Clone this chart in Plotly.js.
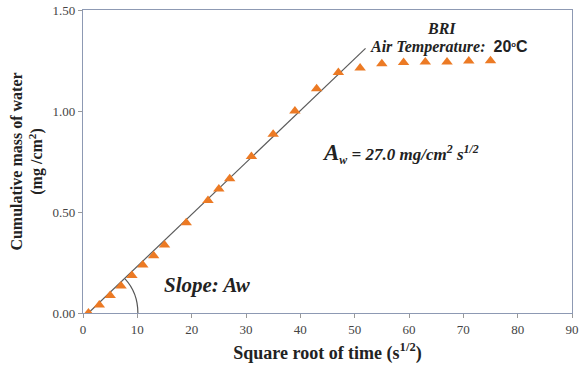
<!DOCTYPE html>
<html><head><meta charset="utf-8">
<script src="https://cdn.plot.ly/plotly-3.0.1.min.js"></script>
<style>html,body{margin:0;padding:0;background:#fff}#chart{width:585px;height:368px}</style>
</head><body><div id="chart"></div>
<script>
const timeSqrt = [1,3,5,7,9,11,13,15,19,23,25,27,31,35,39,43,47,51,55,59,63,67,71,75];
const massWater = [0.00,0.04,0.087,0.134,0.186,0.238,0.284,0.337,0.447,0.557,0.614,0.665,0.775,0.885,1.00,1.11,1.19,1.213,1.234,1.24,1.243,1.243,1.247,1.249];
const fitX = [1,52];
const fitY = [0,1.31];
const xTicks = [0,10,20,30,40,50,60,70,80,90];
const yTicks = [0,0.5,1.0,1.5];

const serif = '"Liberation Serif", "Times New Roman", serif';
const data = [
  {x: fitX, y: fitY, mode:'lines', line:{color:'#5a5a5a', width:1.2}, hoverinfo:'skip', showlegend:false},
  {x: timeSqrt, y: massWater, mode:'markers', marker:{symbol:'triangle-up', size:10, color:'#ec7a24'}, showlegend:false}
];
const layout = {
  width:585, height:368,
  margin:{l:83, r:13, t:10, b:55},
  paper_bgcolor:'#fff', plot_bgcolor:'#fff',
  showlegend:false,
  xaxis:{range:[0,90], tickvals:xTicks, ticks:'outside', ticklen:4, tickcolor:'#999',
    showgrid:false, zeroline:false, showline:true, mirror:true, linecolor:'#8d99b3', linewidth:1.2,
    tickfont:{family:serif, size:13, color:'#444'},
    title:{text:'Square root of time (s<sup>1/2</sup>)', font:{family:serif, size:18, color:'#222', weight:'bold'}, standoff:10}},
  yaxis:{range:[0,1.5], tickvals:yTicks, tickformat:'.2f', ticks:'outside', ticklen:4, tickcolor:'#999',
    showgrid:false, zeroline:false, showline:true, mirror:true, linecolor:'#8d99b3', linewidth:1.2,
    tickfont:{family:serif, size:13, color:'#444'},
    title:{text:'Cumulative mass of water<br>(mg /cm<sup>2</sup>)', font:{family:serif, size:16, color:'#222', weight:'bold'}, standoff:5}},
  shapes:[
    {type:'path', xref:'x', yref:'y', path:'M 7.74,0.169 C 9.32,0.123 10.1,0.063 10.1,0', line:{color:'#555', width:1.2}}
  ],
  annotations:[
    {x:0.733, y:0.94, xref:'paper', yref:'paper', xanchor:'center', yanchor:'middle', showarrow:false, text:'<b><i>BRI</i></b>', font:{family:serif, size:16, color:'#222'}},
    {x:0.749, y:0.879, xref:'paper', yref:'paper', xanchor:'center', yanchor:'middle', showarrow:false,
      text:'<b><i>Air Temperature:</i></b>  <b><span style="font-family:Liberation Sans, Arial, sans-serif">20</span><span style="font-family:Liberation Sans, Arial, sans-serif;font-size:11px"><sup>o</sup></span><span style="font-family:Liberation Sans, Arial, sans-serif">C</span></b>',
      font:{family:serif, size:16, color:'#222'}},
    {x:0.65, y:0.528, xref:'paper', yref:'paper', xanchor:'center', yanchor:'middle', showarrow:false,
      text:'<b><i><span style="font-size:23px">A</span><sub>w</sub> = 27.0 mg/cm<sup>2</sup> s<sup>1/2</sup></i></b>',
      font:{family:serif, size:17, color:'#222'}},
    {x:0.254, y:0.093, xref:'paper', yref:'paper', xanchor:'center', yanchor:'middle', showarrow:false,
      text:'<b><i>Slope: Aw</i></b>', font:{family:serif, size:21, color:'#222'}}
  ]
};
Plotly.newPlot('chart', data, layout, {displayModeBar:false, staticPlot:true});
</script></body></html>
